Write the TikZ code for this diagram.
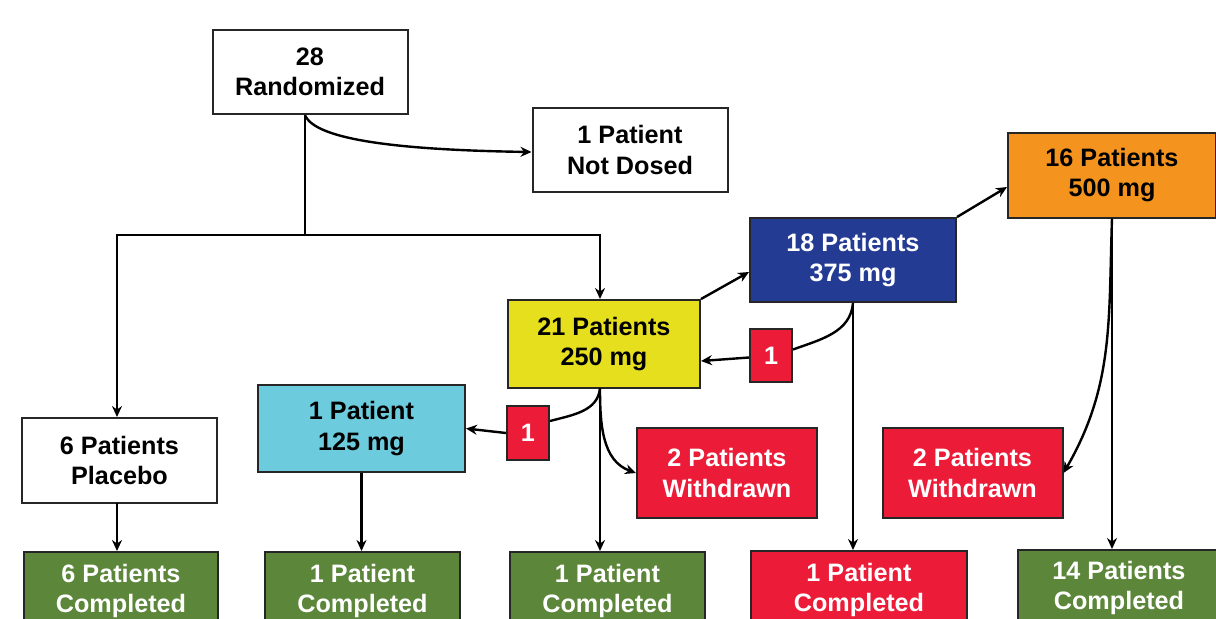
\documentclass[tikz,border=0pt]{standalone}
\usepackage{fontspec}
\setmainfont{Liberation Sans}
\usetikzlibrary{calc}
\usetikzlibrary{arrows.meta}

\definecolor{doseyellow}{HTML}{E6DF1E}
\definecolor{dosecyan}{HTML}{6DCBDE}
\definecolor{doseblue}{HTML}{243B93}
\definecolor{doseorange}{HTML}{F5931F}
\definecolor{outred}{HTML}{EC1B38}
\definecolor{donegreen}{HTML}{5C873A}

\tikzset{
  box/.style={draw=black!85, line width=1pt, align=center, inner sep=0pt,
    font=\fontsize{12.6}{15.2}\selectfont\bfseries},
  whitebox/.style={box, fill=white, text=black},
  redbox/.style={box, fill=outred, text=white},
  greenbox/.style={box, fill=donegreen, text=white},
  link/.style={line width=1.2pt}
}

\begin{document}
\begin{tikzpicture}[>={Stealth[length=5.5pt,width=5pt]}, x=0.5pt, y=-0.5pt]
                \useasboundingbox (0,0) rectangle (1216,618);
                \clip (0,0) rectangle (1216,618);
                % top
                \node[whitebox, minimum width=97.5pt, minimum height=42pt] (rand) at (310,72) {28\\Randomized};
                \node[whitebox, minimum width=97.5pt, minimum height=42pt] (notdosed) at (630,150) {1 Patient\\Not Dosed};
                % dose groups
                \node[whitebox, minimum width=97.5pt, minimum height=42.5pt] (placebo) at (119.5,460.5) {6 Patients\\Placebo};
                \node[box, fill=dosecyan, minimum width=103.5pt, minimum height=43.5pt] (d125) at (361.5,428.5) {1 Patient\\125 mg};
                \node[box, fill=doseyellow, minimum width=96pt, minimum height=44pt] (d250) at (604,344) {21 Patients\\250 mg};
                \node[box, fill=doseblue, text=white, minimum width=103pt, minimum height=42pt] (d375) at (853,260) {18 Patients\\375 mg};
                \node[box, fill=doseorange, minimum width=104pt, minimum height=42.5pt] (d500) at (1112,175) {16 Patients\\500 mg};
                % step downs
                \node[redbox, minimum width=21pt, minimum height=27pt] (down1) at (528,433) {1};
                \node[redbox, minimum width=21pt, minimum height=26.5pt] (down2) at (771,355.5) {1};
                % withdrawn
                \node[redbox, minimum width=90pt, minimum height=45pt] (wd1) at (727,473) {2 Patients\\Withdrawn};
                \node[redbox, minimum width=90pt, minimum height=45pt] (wd2) at (972.5,473) {2 Patients\\Withdrawn};
                % completed
                \node[greenbox, minimum width=97pt, minimum height=39pt] (c0) at (121,591) {6 Patients\\Completed};
                \node[greenbox, minimum width=97.5pt, minimum height=39pt] (c1) at (362.5,591) {1 Patient\\Completed};
                \node[greenbox, minimum width=97.5pt, minimum height=39pt] (c2) at (607.5,591) {1 Patient\\Completed};
                \node[redbox, minimum width=108pt, minimum height=39pt] (c3) at (859,590) {1 Patient\\Completed};
                \node[greenbox, minimum width=101pt, minimum height=38pt] (c4) at (1119,588) {14 Patients\\Completed};
                % connectors
                \coordinate (split) at (305,235);
                \coordinate (b250) at (600,388);
                \coordinate (bplac) at (117,503);
                \draw[link] (rand.south -| split) -- (split);
                \draw[link,->] (rand.south -| split) .. controls (315,140) and (400,150) .. ($(notdosed.west)+(0,2)$);
                \draw[link,->] (split) -| (bplac |- placebo.north);
                \draw[link,->] (split) -| (b250 |- d250.north);
                \draw[link,->] (d250.north east) -- ($(d375.west)+(0,12)$);
                \draw[link,->] (d375.north east) -- ($(d500.west)+(0,12)$);
                \draw[link] (d375.south) to[out=-95,in=20] ($(down2.east)+(0,-6)$);
                \draw[link,->] ($(down2.west)+(0,2)$) -- ($(d250.east)+(0,17)$);
                \draw[link] (b250) to[out=-95,in=15] ($(down1.east)+(0,-12)$);
                \draw[link,->] (down1.west) -- (d125.east);
                \draw[link,->] (b250) to[out=-90,in=160] (wd1.west);
                \draw[link,->] (b250) -- (b250 |- c2.north);
                \draw[link,->] (d375.south) -- (d375.south |- c3.north);
                \draw[link,->] (d500.south) to[out=-92,in=60] (wd2.east);
                \draw[link,->] (d500.south) -- (d500.south |- c4.north);
                \draw[link,->] (bplac) -- (bplac |- c0.north);
                \draw[link,->] (d125.south) -- (d125.south |- c1.north);
\end{tikzpicture}
\end{document}
